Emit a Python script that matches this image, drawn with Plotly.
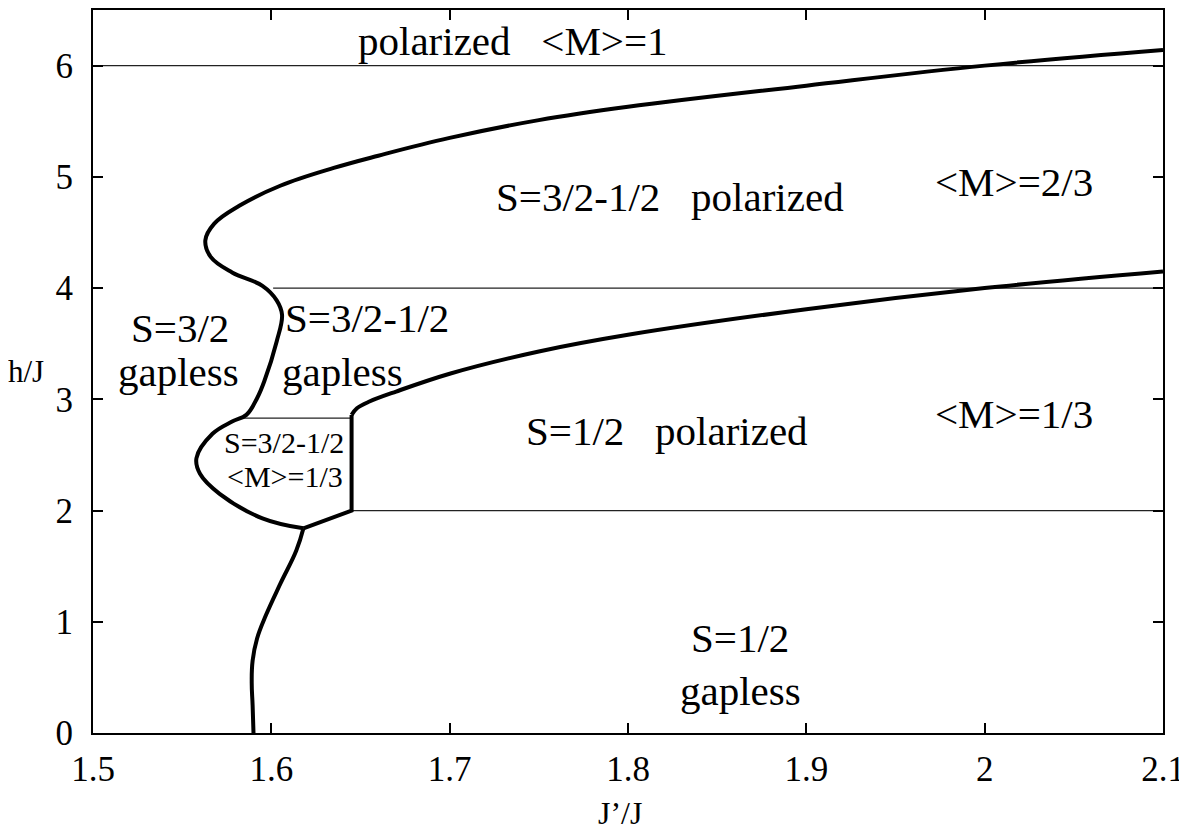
import plotly.graph_objects as go

# ---- data ----
# upper boundary: from right edge down through the turning points to the cusp
upper_x = [2.1, 2.0, 1.9, 1.8, 1.75, 1.7, 1.66, 1.635, 1.605, 1.582, 1.568, 1.563,
           1.566, 1.578, 1.595, 1.603, 1.606, 1.603, 1.596, 1.592, 1.586, 1.578, 1.567,
           1.558, 1.560, 1.571, 1.595, 1.618]
upper_h = [6.14, 6.00, 5.82, 5.63, 5.51, 5.35, 5.19, 5.08, 4.92, 4.74, 4.58, 4.43,
           4.28, 4.14, 4.02, 3.89, 3.76, 3.52, 3.16, 3.01, 2.86, 2.80, 2.69,
           2.47, 2.33, 2.15, 1.93, 1.84]
# cusp -> corner -> vertical segment
seg_x = [1.618, 1.645, 1.645]
seg_h = [1.84, 2.00, 2.86]
# lower boundary (S=1/2 polarized top)
lower_x = [1.645, 1.648, 1.655, 1.67, 1.7, 1.75, 1.8, 1.9, 2.0, 2.1]
lower_h = [2.86, 2.92, 2.98, 3.07, 3.23, 3.43, 3.58, 3.81, 4.00, 4.15]
# boundary from the cusp down to h=0
bottom_x = [1.618, 1.614, 1.605, 1.597, 1.592, 1.5895, 1.589, 1.5895, 1.590]
bottom_h = [1.84, 1.64, 1.34, 1.06, 0.85, 0.65, 0.45, 0.25, 0.00]
# thin plateau lines: (x start, x end, h)
plateau_x0 = [1.5, 1.601, 1.582, 1.645]
plateau_x1 = [2.1, 2.1, 1.645, 2.1]
plateau_h = [6.0, 4.0, 2.83, 2.0]

# region labels (one entry per text line)
label_text = ["polarized\u00a0\u00a0\u00a0<M>=1",
              "S=3/2-1/2\u00a0\u00a0\u00a0polarized",
              "<M>=2/3",
              "S=3/2", "gapless",
              "S=3/2-1/2", "gapless",
              "S=3/2-1/2", "<M>=1/3",
              "S=1/2\u00a0\u00a0\u00a0polarized",
              "<M>=1/3",
              "S=1/2", "gapless"]
label_x = [1.7356, 1.8236, 2.0165,
           1.549, 1.548,
           1.6066, 1.605,
           1.607, 1.6077,
           1.822, 2.0165,
           1.863, 1.863]
label_h = [6.22, 4.82, 4.95,
           3.645, 3.25,
           3.735, 3.25,
           2.61, 2.305,
           2.715, 2.865,
           0.85, 0.375]
label_size = [41, 41, 41, 41, 41, 41, 41, 30, 30, 41, 41, 41, 41]
label_anchor = ["center", "center", "center", "center", "center", "left", "left",
                "center", "center", "center", "center", "center", "center"]

x_ticks = [1.5, 1.6, 1.7, 1.8, 1.9, 2.0, 2.1]
x_tick_text = ["1.5", "1.6", "1.7", "1.8", "1.9", "2", "2.1"]
y_ticks = [0, 1, 2, 3, 4, 5, 6]
y_tick_text = ["0", "1", "2", "3", "4", "5", "6"]

FONT = "Liberation Serif, Times New Roman, serif"

fig = go.Figure()

for x0, x1, h in zip(plateau_x0, plateau_x1, plateau_h):
    fig.add_trace(go.Scatter(x=[x0, x1], y=[h, h], mode="lines",
                             line=dict(color="#222222", width=1.2),
                             showlegend=False, hoverinfo="skip"))

thick = dict(color="black", width=4)
fig.add_trace(go.Scatter(x=upper_x, y=upper_h, mode="lines",
                         line=dict(thick, shape="spline", smoothing=1.1), showlegend=False))
fig.add_trace(go.Scatter(x=seg_x, y=seg_h, mode="lines", line=thick, showlegend=False))
fig.add_trace(go.Scatter(x=lower_x, y=lower_h, mode="lines",
                         line=dict(thick, shape="spline", smoothing=1.0), showlegend=False))
fig.add_trace(go.Scatter(x=bottom_x, y=bottom_h, mode="lines",
                         line=dict(thick, shape="spline", smoothing=1.2), showlegend=False))

for t, x, h, s, an in zip(label_text, label_x, label_h, label_size, label_anchor):
    fig.add_annotation(x=x, y=h, xref="x", yref="y", text=t, showarrow=False,
                       font=dict(family=FONT, size=s, color="black"),
                       xanchor=an, yanchor="middle")

# axis titles
fig.add_annotation(x=0.4925, y=-0.083, xref="paper", yref="paper", text="J\u2019/J",
                   showarrow=False, font=dict(family=FONT, size=32, color="black"),
                   xanchor="center", yanchor="top")
fig.add_annotation(x=-0.063, y=3.25, xref="paper", yref="y", text="h/J",
                   showarrow=False, font=dict(family=FONT, size=31, color="black"),
                   xanchor="center", yanchor="middle")

axis_common = dict(showgrid=False, zeroline=False, showline=True, linecolor="black",
                   linewidth=2, mirror="ticks", ticks="inside", ticklen=10,
                   tickwidth=1.5, tickcolor="black", ticklabeloverflow="allow",
                   tickfont=dict(family=FONT, size=35, color="black"))

fig.update_xaxes(range=[1.5, 2.1], tickvals=x_ticks, ticktext=x_tick_text,
                 ticklabelstandoff=4, **axis_common)
fig.update_yaxes(range=[0, 6.5], tickvals=y_ticks, ticktext=y_tick_text,
                 ticklabelstandoff=11, **axis_common)

fig.update_layout(width=1179, height=823,
                  margin=dict(l=85, r=24, t=0, b=98),
                  paper_bgcolor="white", plot_bgcolor="white",
                  showlegend=False)

fig.write_html("out.html")
